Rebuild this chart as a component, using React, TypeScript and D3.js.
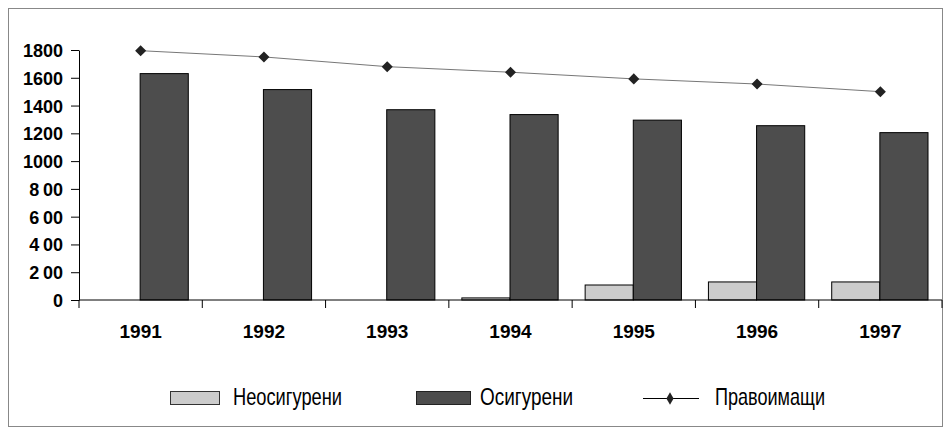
import React, { useEffect, useRef } from 'react';
import * as d3 from 'd3';

const years = ['1991', '1992', '1993', '1994', '1995', '1996', '1997'];
const uninsured = [0, 0, 0, 15, 108, 130, 130];
const insured = [1630, 1515, 1370, 1335, 1295, 1255, 1205];
const entitled = [1795, 1750, 1680, 1640, 1592, 1555, 1500];
const yTicks = [0, 200, 400, 600, 800, 1000, 1200, 1400, 1600, 1800];
const legendLabels = ['Неосигурени', 'Осигурени', 'Правоимащи'];

const W = 943;
const H = 427;
const LIGHT = '#cccccc';
const DARK = '#4d4d4d';
const BOLD_FONT = 'Liberation Sans, Arial, sans-serif';

export default function App() {
  const svgRef = useRef<SVGSVGElement>(null);

  useEffect(() => {
    const svg = d3.select(svgRef.current);
    svg.selectAll('*').remove();

    const left = 79;
    const right = 942;
    const top = 50;
    const bottom = 300;

    const x = d3.scaleBand().domain(years).range([left, right]).paddingInner(0).paddingOuter(0);
    const inner = d3
      .scaleBand()
      .domain(['u', 'i'])
      .range([13, x.bandwidth() - 14])
      .padding(0);
    const y = d3.scaleLinear().domain([0, 1800]).range([bottom, top]);

    // frame
    svg
      .append('rect')
      .attr('x', 8.5)
      .attr('y', 8.5)
      .attr('width', W - 9)
      .attr('height', H - 9)
      .attr('fill', 'none')
      .attr('stroke', '#888');

    // bars
    const g = svg.append('g');
    years.forEach((yr, i) => {
      const x0 = x(yr)!;
      if (uninsured[i] > 0) {
        g.append('rect')
          .attr('x', x0 + inner('u')!)
          .attr('y', y(uninsured[i]))
          .attr('width', inner.bandwidth())
          .attr('height', bottom - y(uninsured[i]))
          .attr('fill', LIGHT)
          .attr('stroke', '#000')
          .attr('stroke-width', 1);
      }
      g.append('rect')
        .attr('x', x0 + inner('i')!)
        .attr('y', y(insured[i]))
        .attr('width', inner.bandwidth())
        .attr('height', bottom - y(insured[i]))
        .attr('fill', DARK)
        .attr('stroke', '#000')
        .attr('stroke-width', 1);
    });

    // y axis
    svg
      .append('g')
      .attr('transform', `translate(${left},0)`)
      .call(
        d3
          .axisLeft(y)
          .tickValues(yTicks)
          .tickSize(8)
          .tickSizeOuter(0)
          .tickFormat((d) => {
            const v = d as number;
            return v >= 1000 ? String(v) : String(v).replace(/^(\d)(\d\d)$/, '$1\u2009$2');
          })
      )
      .call((a) => a.selectAll('path, line').attr('stroke', '#000'))
      .call((a) =>
        a
          .selectAll('text')
          .attr('x', -16)
          .attr('dy', '0.36em')
          .attr('fill', '#000')
          .style('font-family', BOLD_FONT)
          .style('font-weight', 'bold')
          .style('font-size', '18px')
      );

    // x axis
    svg
      .append('g')
      .attr('transform', `translate(0,${bottom})`)
      .call((a) => {
        a.append('line')
          .attr('x1', left)
          .attr('x2', right)
          .attr('stroke', '#000');
        a.selectAll('line.tk')
          .data([...years.map((yr) => x(yr)!), right])
          .join('line')
          .attr('class', 'tk')
          .attr('x1', (d) => d)
          .attr('x2', (d) => d)
          .attr('y1', 0)
          .attr('y2', 8)
          .attr('stroke', '#000');
        a.selectAll('text')
          .data(years)
          .join('text')
          .attr('x', (d) => x(d)! + x.bandwidth() / 2)
          .attr('y', 38)
          .attr('text-anchor', 'middle')
          .style('font-family', BOLD_FONT)
          .style('font-weight', 'bold')
          .style('font-size', '19px')
          .text((d) => d);
      });

    // line series
    const line = d3
      .line<number>()
      .x((_, i) => x(years[i])! + x.bandwidth() / 2)
      .y((d) => y(d));
    svg
      .append('path')
      .datum(entitled)
      .attr('d', line)
      .attr('fill', 'none')
      .attr('stroke', '#777')
      .attr('stroke-width', 1);
    const diamond = d3.symbol().type(d3.symbolDiamond2).size(78);
    svg
      .selectAll('path.mk')
      .data(entitled)
      .join('path')
      .attr('class', 'mk')
      .attr('d', diamond)
      .attr('transform', (d, i) => `translate(${x(years[i])! + x.bandwidth() / 2},${y(d)})`)
      .attr('fill', '#222');

    // legend
    const lg = svg.append('g').style('font-family', BOLD_FONT).style('font-size', '24px');
    lg.append('rect').attr('x', 170.5).attr('y', 391.5).attr('width', 49).attr('height', 13).attr('fill', LIGHT).attr('stroke', '#333');
    lg.append('text').attr('x', 233).attr('y', 405).attr('textLength', 109).attr('lengthAdjust', 'spacingAndGlyphs').text(legendLabels[0]);
    lg.append('rect').attr('x', 416.5).attr('y', 391.5).attr('width', 54).attr('height', 13).attr('fill', DARK).attr('stroke', '#222');
    lg.append('text').attr('x', 480).attr('y', 405).attr('textLength', 93).attr('lengthAdjust', 'spacingAndGlyphs').text(legendLabels[1]);
    lg.append('line').attr('x1', 643).attr('x2', 699).attr('y1', 398.5).attr('y2', 398.5).attr('stroke', '#000');
    lg.append('path').attr('d', d3.symbol().type(d3.symbolDiamond).size(45)).attr('transform', 'translate(670,398.5)').attr('fill', '#222');
    lg.append('text').attr('x', 715).attr('y', 405).attr('textLength', 110).attr('lengthAdjust', 'spacingAndGlyphs').text(legendLabels[2]);
  }, []);

  return (
    <div style={{ position: 'fixed', left: 0, top: 0 }}>
      <svg ref={svgRef} width={W} height={H} style={{ display: 'block', background: '#fff' }} />
    </div>
  );
}
